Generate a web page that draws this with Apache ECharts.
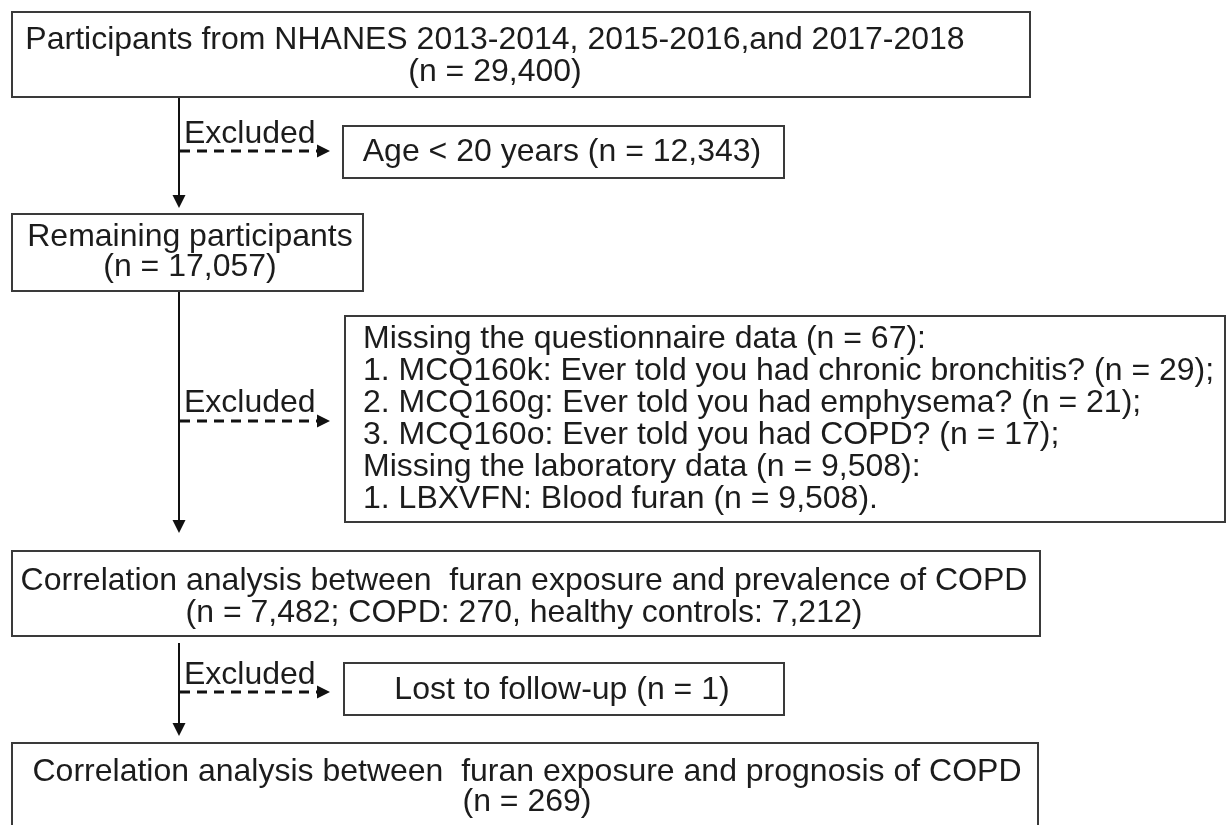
<!DOCTYPE html>
<html>
<head>
<meta charset="utf-8">
<script src="https://cdn.jsdelivr.net/npm/echarts@6/dist/echarts.min.js"></script>
<style>
  html, body { margin: 0; padding: 0; background: #ffffff; }
  #chart { width: 1227px; height: 825px; }
</style>
</head>
<body>
<div id="chart"></div>
<script>
// ---- content (texts of the flow diagram) ----
const boxLines = [
  ["Participants from NHANES 2013-2014, 2015-2016,and 2017-2018", "(n = 29,400)"],
  ["Age < 20 years (n = 12,343)"],
  ["Remaining participants", "(n = 17,057)"],
  ["Missing the questionnaire data (n = 67):",
   "1. MCQ160k: Ever told you had chronic bronchitis? (n = 29);",
   "2. MCQ160g: Ever told you had emphysema? (n = 21);",
   "3. MCQ160o: Ever told you had COPD? (n = 17);",
   "Missing the laboratory data (n = 9,508):",
   "1. LBXVFN: Blood furan (n = 9,508)."],
  ["Correlation analysis between  furan exposure and prevalence of COPD",
   "(n = 7,482; COPD: 270, healthy controls: 7,212)"],
  ["Lost to follow-up (n = 1)"],
  ["Correlation analysis between  furan exposure and prognosis of COPD", "(n = 269)"]
];
const excludedLabel = "Excluded";
const boxIds = [0, 1, 2, 3, 4, 5, 6];
const stepIds = [0, 1, 2];

// ---- layout (diagram units on hidden axes) ----
const W = 1227, H = 825;
const boxRects = [
  [12, 12, 1030, 97],
  [343, 126, 784, 178],
  [12, 214, 363, 291],
  [345, 316, 1225, 522],
  [12, 551, 1040, 636],
  [344, 663, 784, 715],
  [12, 743, 1038, 845]
];
const boxText = [
  { x: 495, align: 'center', base: 50, lh: 32 },
  { x: 562, align: 'center', base: 162, lh: 32 },
  { x: 190, align: 'center', base: 247, lh: 30 },
  { x: 363, align: 'left',   base: 349, lh: 32 },
  { x: 524, align: 'center', base: 591, lh: 32 },
  { x: 562, align: 'center', base: 700, lh: 32 },
  { x: 527, align: 'center', base: 782, lh: 30 }
];
const trunkX = 179;
const trunks = [[97, 208], [291, 533], [643, 736]];
const branchY = [151, 421, 692];
const branchEndX = 330;
const labelBase = [144, 413, 685];
const labelX = 184;

const FONT = '32px "Liberation Sans", Arial, Helvetica, sans-serif';
const TEXT_COLOR = '#1c1c1c';
const BASE_SHIFT = 10; // baseline offset from 'middle'

const chart = echarts.init(document.getElementById('chart'), null, { renderer: 'canvas' });

function textEl(api, x, baseY, str, align) {
  const p = api.coord([x, baseY - BASE_SHIFT]);
  return {
    type: 'text',
    style: {
      x: p[0], y: p[1], text: str, font: FONT, fill: TEXT_COLOR,
      align: align, verticalAlign: 'middle'
    }
  };
}

function renderBox(params, api) {
  const i = api.value(0);
  const r = boxRects[i];
  const p0 = api.coord([r[0], r[1]]);
  const p1 = api.coord([r[2], r[3]]);
  const children = [{
    type: 'rect',
    shape: { x: p0[0], y: p0[1], width: p1[0] - p0[0], height: p1[1] - p0[1] },
    style: { fill: '#ffffff', stroke: '#3a3a3a', lineWidth: 2 }
  }];
  const t = boxText[i];
  boxLines[i].forEach(function (line, k) {
    children.push(textEl(api, t.x, t.base + k * t.lh, line, t.align));
  });
  return { type: 'group', children: children };
}

function renderStep(params, api) {
  const i = api.value(0);
  const tr = trunks[i];
  const a = api.coord([trunkX, tr[0]]);
  const b = api.coord([trunkX, tr[1]]);
  const by = branchY[i];
  const c0 = api.coord([trunkX, by]);
  const c1 = api.coord([branchEndX, by]);
  const head = 13, half = 6.5;
  return {
    type: 'group',
    children: [
      { type: 'line', shape: { x1: a[0], y1: a[1], x2: b[0], y2: b[1] - head + 1 },
        style: { stroke: '#111111', lineWidth: 2 } },
      { type: 'polygon', shape: { points: [[b[0] - half, b[1] - head], [b[0] + half, b[1] - head], [b[0], b[1]]] },
        style: { fill: '#111111' } },
      { type: 'line', shape: { x1: c0[0] + 1, y1: c0[1], x2: c1[0] - head, y2: c1[1] },
        style: { stroke: '#111111', lineWidth: 3, lineDash: [10, 7] } },
      { type: 'polygon', shape: { points: [[c1[0] - head, c1[1] - half], [c1[0] - head, c1[1] + half], [c1[0], c1[1]]] },
        style: { fill: '#111111' } },
      textEl(api, labelX, labelBase[i], excludedLabel, 'left')
    ]
  };
}

const option = {
  animation: false,
  backgroundColor: '#ffffff',
  grid: { left: 0, right: 0, top: 0, bottom: 0 },
  xAxis: { type: 'value', min: 0, max: W, show: false },
  yAxis: { type: 'value', min: 0, max: H, inverse: true, show: false },
  series: [
    {
      type: 'custom', name: 'steps', clip: false, silent: true,
      renderItem: renderStep,
      data: stepIds.map(function (v) { return [v]; })
    },
    {
      type: 'custom', name: 'boxes', clip: false, silent: true,
      renderItem: renderBox,
      data: boxIds.map(function (v) { return [v]; })
    }
  ]
};
chart.setOption(option);
</script>
</body>
</html>
